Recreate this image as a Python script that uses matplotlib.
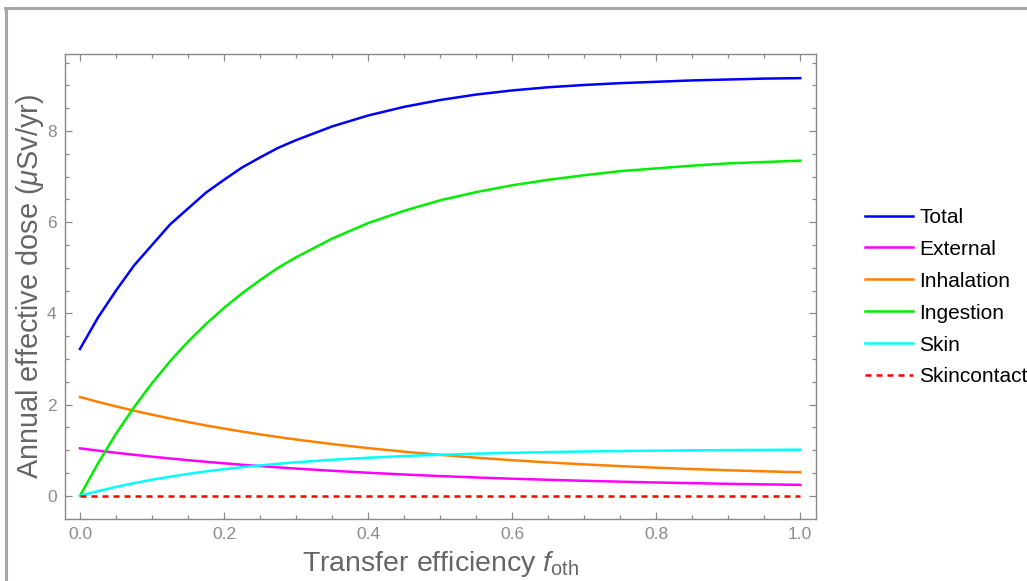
import matplotlib
matplotlib.use("Agg")
import matplotlib.pyplot as plt
from matplotlib.lines import Line2D

plt.rcParams['font.family'] = ['Liberation Sans', 'DejaVu Sans']
plt.rcParams['mathtext.fontset'] = 'custom'
plt.rcParams['mathtext.rm'] = 'Liberation Sans'
plt.rcParams['mathtext.it'] = 'Liberation Sans:italic'

# values (denser where the curves bend most)
f_oth = [0.000, 0.025, 0.050, 0.075, 0.100, 0.125, 0.150, 0.175, 0.200, 0.225,
         0.250, 0.275, 0.300, 0.350, 0.400, 0.450, 0.500, 0.550, 0.600, 0.650,
         0.700, 0.750, 0.800, 0.850, 0.900, 0.950, 1.000]
total = [3.22, 3.91, 4.50, 5.05, 5.50, 5.95, 6.30, 6.65, 6.93, 7.20,
         7.42, 7.63, 7.80, 8.10, 8.34, 8.53, 8.68, 8.80, 8.89, 8.96,
         9.01, 9.05, 9.08, 9.11, 9.13, 9.15, 9.16]
external = [1.040, 0.990, 0.943, 0.899, 0.857, 0.818, 0.780, 0.745, 0.712, 0.680,
            0.651, 0.623, 0.596, 0.548, 0.505, 0.466, 0.432, 0.401, 0.374, 0.350,
            0.328, 0.309, 0.291, 0.276, 0.262, 0.250, 0.239]
inhalation = [2.165, 2.059, 1.960, 1.866, 1.778, 1.695, 1.616, 1.542, 1.473, 1.408,
              1.346, 1.288, 1.234, 1.134, 1.045, 0.966, 0.897, 0.835, 0.780, 0.731,
              0.688, 0.650, 0.616, 0.586, 0.559, 0.536, 0.515]
ingestion = [0.00, 0.71, 1.36, 1.94, 2.47, 2.95, 3.38, 3.77, 4.12, 4.44,
             4.73, 5.00, 5.23, 5.64, 5.98, 6.25, 6.48, 6.66, 6.81, 6.93,
             7.03, 7.12, 7.18, 7.24, 7.29, 7.32, 7.35]
skin = [0.000, 0.102, 0.194, 0.277, 0.352, 0.419, 0.479, 0.534, 0.583, 0.627,
        0.666, 0.702, 0.734, 0.789, 0.834, 0.870, 0.899, 0.923, 0.942, 0.958,
        0.971, 0.981, 0.989, 0.996, 1.002, 1.006, 1.010]
skincontact = [0.0] * len(f_oth)

series = [("Total", total, "#0000ff", "-"),
          ("External", external, "#ff00ff", "-"),
          ("Inhalation", inhalation, "#ff8000", "-"),
          ("Ingestion", ingestion, "#00ee00", "-"),
          ("Skin", skin, "#00ffff", "-"),
          ("Skincontact", skincontact, "#ff0000", "--")]

fig = plt.figure(figsize=(10.27, 5.81), dpi=100)
ax = fig.add_axes([0.0633, 0.1067, 0.7313, 0.8004])

handles = []
for name, vals, col, ls in series:
    if ls == "--":
        h, = ax.plot(f_oth, vals, color=col, lw=1.8, ls=(0, (2.4, 2.0)), label=name)
    else:
        h, = ax.plot(f_oth, vals, color=col, lw=1.8, label=name)
    handles.append(h)

ax.set_xlim(-0.0208, 1.022)
ax.set_ylim(-0.51, 9.69)
ax.set_xticks([0.0, 0.2, 0.4, 0.6, 0.8, 1.0])
ax.set_xticklabels(["0.0", "0.2", "0.4", "0.6", "0.8", "1.0"])
ax.set_yticks([0, 2, 4, 6, 8])
ax.set_xticks([i * 0.05 for i in range(21)], minor=True)
ax.set_yticks([i * 0.5 for i in range(20)], minor=True)

for sp in ax.spines.values():
    sp.set_color("#888888")
    sp.set_linewidth(1.0)
ax.tick_params(which="both", direction="in", top=True, right=True,
               colors="#888888", labelcolor="#8c8c8c", labelsize=12.5, width=0.9)
ax.tick_params(which="major", length=5, pad=6)
ax.tick_params(which="minor", length=3)

ax.set_xlabel(r"Transfer efficiency $f_{\mathrm{oth}}$", fontsize=20.5, color="#666666", labelpad=5)
ax.set_ylabel(r"Annual effective dose ($\mu$Sv/yr)", fontsize=20.8, color="#666666", labelpad=1)

fig.legend(handles=handles, loc="upper left", bbox_to_anchor=(0.834, 0.6566),
           frameon=False, fontsize=15, handlelength=2.3, handletextpad=0.3,
           labelspacing=0.62, borderaxespad=0)

# grey frame of the notebook cell
fig.add_artist(Line2D([0.005, 1.0], [0.986, 0.986], color="#a8a8a8", lw=2.2))
fig.add_artist(Line2D([0.0055, 0.0055], [0.0, 0.986], color="#a8a8a8", lw=2.2))

fig.savefig("out.png", dpi=100)
